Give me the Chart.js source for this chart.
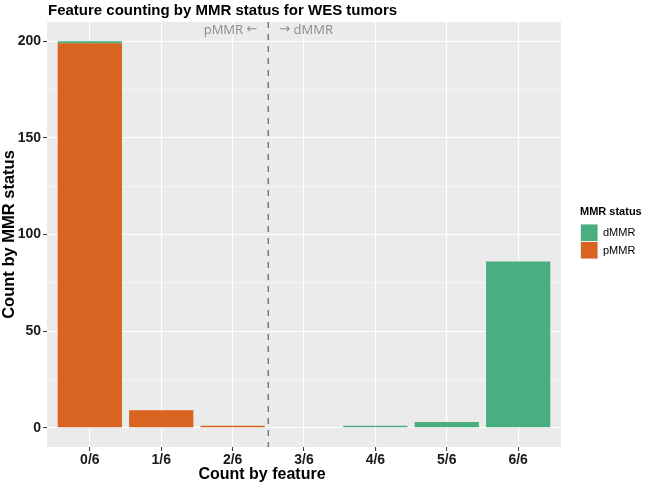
<!DOCTYPE html>
<html>
<head>
<meta charset="utf-8">
<script src="https://cdn.jsdelivr.net/npm/chart.js@4"></script>
<style>
  html, body { margin: 0; padding: 0; background: #fff; }
  #wrap { width: 647px; height: 486px; position: relative; }
</style>
</head>
<body>
<div id="wrap"><canvas id="ChartHolder" width="647" height="486"></canvas></div>
<script>
// categories and counts
var featureLabels = ['0/6', '1/6', '2/6', '3/6', '4/6', '5/6', '6/6'];
var pmmrCounts = [199, 9, 1, 0, 0, 0, 0];
var dmmrCounts = [1, 0, 0, 0, 1, 3, 86];
var yTickValues = [0, 25, 50, 75, 100, 125, 150, 175, 200];
var legendNames = ['dMMR', 'pMMR'];

var dmmrColour = '#4AAF80';
var pmmrColour = '#D96320';

function toPoints(arr) {
    return arr.map(function (v, i) { return { x: i, y: v }; });
}

// grey panel, dashed divider, side notes, titles and legend
var ggDecor = {
    id: 'ggDecor',
    beforeDraw: function (chart) {
        var a = chart.chartArea;
        var c = chart.ctx;
        c.save();
        c.fillStyle = '#EBEBEB';
        c.fillRect(a.left, a.top, a.right - a.left, a.bottom - a.top);
        c.restore();
    },
    afterDatasetsDraw: function (chart) {
        var c = chart.ctx;
        var a = chart.chartArea;
        var xs = chart.scales.x;
        var divX = xs.getPixelForValue(2.5);

        c.save();
        c.strokeStyle = '#7a7a7a';
        c.lineWidth = 1.5;
        c.setLineDash([6, 6]);
        c.beginPath();
        c.moveTo(divX, a.top);
        c.lineTo(divX, a.bottom);
        c.stroke();
        c.setLineDash([]);

        // side notes: word in Open Sans, arrow in DejaVu Sans
        c.fillStyle = '#8c8c8c';
        c.textBaseline = 'middle';
        c.textAlign = 'left';
        var word = '13px "Open Sans"';
        var arrow = '13px "DejaVu Sans"';
        c.font = arrow;
        var aw = c.measureText('\u2190').width;
        c.font = word;
        var pw = c.measureText('pMMR ').width;
        var lx = divX - 11 - aw - pw;
        c.fillText('pMMR ', lx, 30);
        c.font = arrow;
        c.fillText('\u2190', lx + pw, 30);
        c.fillText('\u2192', divX + 11, 30);
        c.font = word;
        c.fillText(' dMMR', divX + 11 + aw, 30);

        // title
        c.fillStyle = '#000';
        c.font = 'bold 15px "Liberation Sans"';
        c.fillText('Feature counting by MMR status for WES tumors', 48, 11);

        // x axis title
        c.textAlign = 'center';
        c.font = 'bold 16px "Liberation Sans"';
        c.fillText('Count by feature', 262, 475);
        c.textAlign = 'left';

        // legend
        c.font = 'bold 11px "Liberation Sans"';
        c.fillText('MMR status', 580, 212);
        var cols = [dmmrColour, pmmrColour];
        for (var i = 0; i < legendNames.length; i++) {
            var y0 = 224 + i * 17.5;
            c.fillStyle = '#EBEBEB';
            c.fillRect(580, y0, 18, 17.5);
            c.fillStyle = cols[i];
            c.fillRect(581, y0 + 0.5, 16.5, 16.5);
            c.fillStyle = '#000';
            c.font = '11px "Liberation Sans"';
            c.fillText(legendNames[i], 603, y0 + 9);
        }
        c.restore();
    }
};

var chartConfig = {
    type: 'bar',
    data: {
        datasets: [{
            label: 'pMMR',
            data: toPoints(pmmrCounts),
            backgroundColor: pmmrColour,
            borderWidth: 0,
            categoryPercentage: 0.9,
            barPercentage: 1.0
        }, {
            label: 'dMMR',
            data: toPoints(dmmrCounts),
            backgroundColor: dmmrColour,
            borderWidth: 0,
            categoryPercentage: 0.9,
            barPercentage: 1.0
        }]
    },
    plugins: [ggDecor],
    options: {
        responsive: false,
        animation: false,
        layout: { padding: { left: 0, top: 22, right: 86, bottom: 0 } },
        plugins: {
            legend: { display: false },
            tooltip: { enabled: false },
            title: { display: false }
        },
        scales: {
            x: {
                type: 'linear',
                stacked: true,
                offset: false,
                min: -0.6,
                max: 6.6,
                afterBuildTicks: function (s) {
                    s.ticks = featureLabels.map(function (_, i) { return { value: i }; });
                },
                afterFit: function (s) { s.height = 39; },
                ticks: {
                    callback: function (v) { return featureLabels[v]; },
                    color: '#1a1a1a',
                    font: { family: 'Liberation Sans', size: 14, weight: 'bold' },
                    padding: 1,
                    maxRotation: 0,
                    autoSkip: false
                },
                grid: {
                    offset: false,
                    color: '#ffffff',
                    lineWidth: 1.1,
                    tickColor: '#333333',
                    tickLength: 4,
                    tickWidth: 1
                },
                border: { display: false },
                title: { display: false }
            },
            y: {
                stacked: true,
                min: -10,
                max: 210,
                afterBuildTicks: function (s) {
                    s.ticks = yTickValues.map(function (v) { return { value: v }; });
                },
                afterFit: function (s) { s.width = 47; },
                ticks: {
                    callback: function (v) { return v % 50 === 0 ? String(v) : ''; },
                    color: '#1a1a1a',
                    font: { family: 'Liberation Sans', size: 14, weight: 'bold' },
                    padding: 2,
                    autoSkip: false
                },
                grid: {
                    color: '#ffffff',
                    lineWidth: function (ctx) { return ctx.tick && ctx.tick.value % 50 === 0 ? 1.1 : 0.5; },
                    tickColor: function (ctx) { return ctx.tick && ctx.tick.value % 50 === 0 ? '#333333' : 'rgba(0,0,0,0)'; },
                    tickLength: 4,
                    tickWidth: 1
                },
                border: { display: false },
                title: {
                    display: true,
                    text: 'Count by MMR status',
                    color: '#000',
                    font: { family: 'Liberation Sans', size: 16.5, weight: 'bold' },
                    padding: { top: 0, bottom: 0 }
                }
            }
        }
    }
};

var currentChart = new Chart(document.getElementById('ChartHolder'), chartConfig);
</script>
</body>
</html>
